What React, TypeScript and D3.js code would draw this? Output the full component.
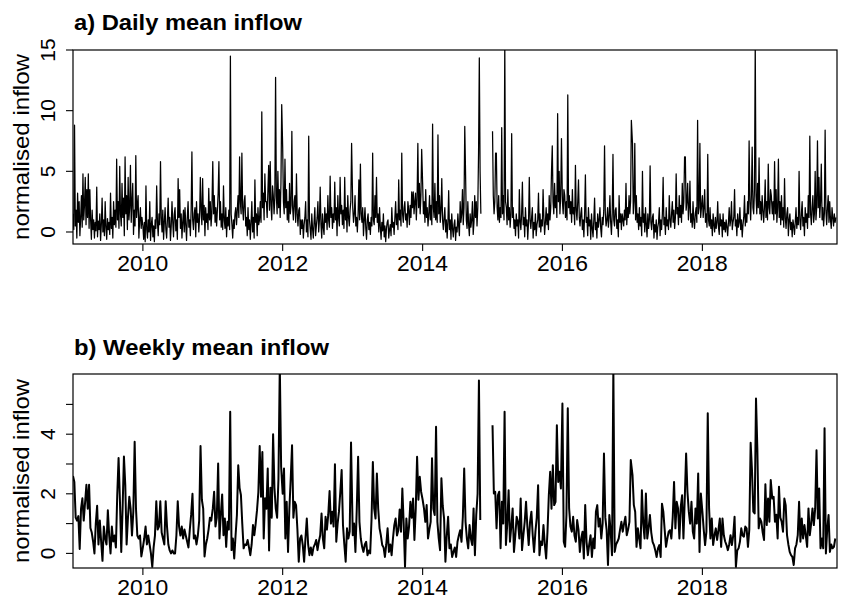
import React from 'react';
import * as d3 from 'd3';

const years = [2009, 2010, 2011, 2012, 2013, 2014, 2015, 2016, 2017, 2018, 2019];

// Daily mean inflow, sampled every 4th day from 1 Jan of each year (null = missing)
const dailyByYear: (number | null)[][] = [
  [1.5, 0.2, 8.8, 0.5, 1.8, -0.5, 3.2, 0.8, 2.5, -0.3,
   1.2, 3.0, 0.4, 4.8, 1.0, 2.2, 4.5, 0.6, 3.5, 1.2,
   4.8, 0.3, 3.5, 1.0, -0.6, 1.8, 0.2, 1.0, -0.5, 0.8,
   0.1, 3.7, -0.4, 0.9, 0.2, 1.5, -0.7, 0.6, 2.8, 0.0,
   1.0, -0.3, 2.5, 0.4, -0.6, 1.1, 0.2, 0.8, -0.2, 3.2,
   0.3, 1.2, -0.5, 2.5, 0.6, 1.8, 0.4, 6.0, 1.0, 2.5,
   0.3, 5.4, 1.5, 0.5, 4.0, 1.2, 2.8, -0.3, 6.2, 1.5,
   3.0, 0.2, 4.5, 1.0, 2.0, 5.5, 0.8, 2.5, 4.0, -0.2,
   1.8, 0.5, 6.3, 1.2, 2.2, 3.0, -0.5, 1.0, 2.0, 0.3,
   1.2],
  [0.5, -0.6, 0.8, -0.8, 3.8, 0.2, -0.5, 1.0, 0.0, 2.5,
   -0.7, 0.6, 1.2, -0.4, 0.5, -0.8, 1.0, 0.3, 3.8, 0.8,
   -0.3, 1.5, 0.6, 5.8, 1.2, 0.0, 1.8, -0.6, 0.8, 2.0,
   0.2, -0.5, 1.0, 2.8, 0.4, 1.2, -0.7, 0.5, 2.5, 0.8,
   -0.4, 1.5, 2.0, 0.1, 1.0, -0.6, 4.4, 1.2, 3.5, 0.3,
   1.5, -0.5, 0.8, 1.8, 0.0, 2.0, 0.6, -0.7, 1.2, 2.5,
   0.4, 1.0, -0.3, 1.8, 6.6, 1.0, 0.2, 1.5, 2.0, -0.4,
   2.5, 0.8, 1.5, 0.0, 1.2, 4.5, 1.8, 0.6, 4.4, 1.0,
   2.2, -0.3, 2.0, 0.8, 1.5, 0.2, 3.6, 1.0, 2.5, 0.5,
   1.5],
  [5.8, 1.5, 3.0, 0.8, 2.0, 0.5, 1.8, 3.2, 5.8, 1.0,
   2.5, 0.4, 1.5, 0.2, 3.8, 1.0, 0.3, 2.0, -0.4, 1.2,
   0.5, 1.8, 0.2, 14.5, 1.5, 0.6, -0.5, 1.0, 0.3, 1.5,
   2.0, 0.6, 1.8, 3.0, 1.2, 6.2, 2.5, 1.5, 6.5, 2.0,
   1.0, 2.5, 3.0, 0.5, 1.2, -0.3, 2.0, 0.2, 1.0, -0.6,
   0.8, 2.5, 0.0, 1.2, -0.5, 4.3, 0.8, 1.5, -0.3, 2.0,
   0.6, 1.0, 2.5, 0.8, 9.9, 2.0, 3.2, 1.0, 4.8, 2.5,
   2.5, 1.2, 3.5, 5.5, 1.8, 5.8, 2.2, 1.0, 3.8, 3.0,
   1.5, 2.8, 12.75, 3.0, 1.5, 5.0, 2.0, 3.5, 1.2, 4.0,
   10.5],
  [7.0, 2.5, 1.5, 6.0, 2.0, 3.5, 1.0, 2.5, 0.8, 4.0,
   1.5, 2.2, 8.3, 2.0, 1.0, 2.5, 3.0, 0.8, 4.8, 1.5,
   0.5, 1.8, 2.0, -0.2, 1.0, 0.3, 1.0, -0.5, 0.6, 1.2,
   2.5, 0.0, 1.0, -0.4, 7.9, 1.0, 0.2, -0.6, 1.5, 0.3,
   -0.5, 0.8, 2.0, -0.3, 0.5, 1.2, 2.5, 0.0, 1.0, 3.7,
   0.6, -0.5, 1.5, 0.4, -0.2, 2.0, 0.8, 1.5, 0.2, 3.0,
   1.0, 0.4, 4.6, 1.2, 2.0, 0.3, 1.5, 0.8, 4.1, 1.0,
   2.0, -0.3, 3.0, 1.2, 0.5, 4.5, 1.5, 2.2, 0.6, 1.8,
   0.3, 4.5, 1.0, 2.0, 0.0, 3.0, 1.2, 0.5, 1.8, 2.5,
   7.3],
  [2.0, 0.8, 1.5, 3.0, 0.5, 1.2, 0.0, 1.5, 4.3, 1.0,
   5.6, 1.5, 0.8, 2.0, -0.3, 1.0, 2.0, 0.3, -0.6, 1.0,
   1.5, 0.2, 0.8, -0.2, 1.2, 0.5, 6.5, 1.0, 0.6, 3.0,
   1.2, 4.5, 0.8, 1.5, 0.0, 2.0, 0.4, -0.6, 0.8, 0.1,
   1.5, -0.4, 0.5, -0.8, 0.3, 0.8, 1.0, -0.5, 0.2, 0.6,
   -0.3, 2.0, 0.4, 0.8, -0.2, 1.2, 2.5, 0.6, 1.5, 0.2,
   4.3, 1.0, 1.8, 0.5, 6.5, 1.5, 0.8, 2.0, 2.5, 1.0,
   1.5, 0.4, 2.5, 1.8, 0.6, 2.2, 1.2, 3.3, 2.0, 3.3,
   1.5, 2.5, 3.2, 1.0, 2.8, 7.3, 2.0, 4.0, 1.5, 3.0,
   6.8],
  [4.0, 1.5, 2.5, 0.8, 3.5, 1.2, 2.0, 0.5, 1.5, 3.0,
   1.0, 2.2, 0.6, 8.9, 2.0, 1.2, 4.0, 1.0, 2.5, 0.8,
   8.0, 1.5, 3.0, 0.8, 1.8, 4.4, 1.0, 0.2, 1.2, 2.0,
   0.0, 1.0, -0.5, 0.8, 3.4, 0.2, 1.0, -0.6, 1.5, 0.3,
   -0.4, 0.6, 1.0, -0.7, 0.4, 0.0, 1.5, 0.5, -0.3, 2.5,
   0.8, 1.5, 3.5, 0.6, 2.0, 8.7, 5.0, 1.0, 0.3, 2.5,
   0.6, -0.3, 1.5, 0.4, 1.0, 2.5, -0.2, 0.8, 3.0, 1.2,
   2.5, 0.5, 2.0, 6.5, 14.35, 5.0, 1.5,
   null, null, null, null, null, null, null, null, null, null, null, null, null, null],
  [8.3, 3.0, 1.5, 2.5, 6.5, 6.5, 2.0, 1.0, 3.0, 0.8,
   2.0, 1.2, 8.6, 1.5, 3.0, 1.0, 15.5, 2.5, 2.0, 0.6,
   3.5, 1.0, 2.0, 0.4, 1.5, 8.1, 1.2, 2.0, 0.3, 1.0,
   -0.3, 1.5, 0.5, 1.0, -0.5, 3.5, 0.8, 0.2, 1.5, 4.1,
   0.6, 1.2, -0.4, 2.0, 0.5, 1.0, -0.6, 0.8, 4.5, 1.0,
   0.3, 1.2, 2.0, -0.5, 0.8, 0.2, 1.5, -0.3, 0.6, 1.0,
   3.2, 0.4, 1.5, 0.0, 1.0, 0.5, 3.5, 1.2, -0.2, 0.8,
   2.0, 0.6, 1.5, 0.2, 3.0, 1.0, 2.0, 5.0, 7.1, 2.5,
   1.5, 4.0, 2.0, 3.0, 1.2, 9.75, 2.5, 5.0, 1.5, 3.0,
   7.7],
  [2.5, 1.5, 3.5, 3.0, 1.2, 2.5, 1.0, 11.3, 2.0, 3.0,
   1.5, 2.5, 0.8, 3.5, 1.5, 2.0, 0.6, 5.5, 1.8, 1.0,
   2.5, 4.3, 1.2, 0.5, 1.5, 2.0, 0.2, 1.0, -0.4, 1.5,
   4.7, 0.8, 1.2, -0.3, 2.0, 0.5, 1.0, -0.6, 1.5, 0.3,
   -0.4, 1.0, 2.8, 0.2, 0.8, -0.5, 1.5, 0.4, 1.0, 2.0,
   0.3, -0.4, 1.2, 0.6, 1.8, 7.1, 1.5, 0.5, 1.0, 2.0,
   0.4, 1.2, 3.0, 0.8, -0.2, 1.5, 6.4, 1.0, 0.5, 1.8,
   2.0, 0.3, 1.0, -0.4, 3.0, 0.8, 1.5, 0.2, 1.5, 1.0,
   0.5, 1.8, 1.0, 4.0, 0.6, 2.0, 1.2, 3.0, 1.5, 2.5,
   9.2],
  [7.3, 1.5, 2.5, 7.3, 1.0, 3.0, 0.8, 1.5, 0.2, 2.0,
   0.5, 1.2, -0.3, 5.0, 0.8, 1.5, 0.0, 2.0, 0.6, -0.4,
   1.5, 0.3, 1.0, 5.45, 0.8, 0.2, 1.2, 1.5, -0.5, 0.6,
   0.0, 1.0, -0.6, 0.4, 0.8, 2.0, -0.3, 1.0, 0.2, 1.5,
   4.5, 0.6, 1.2, -0.2, 2.0, 0.5, 1.0, 0.2, 3.0, 1.0,
   0.4, 1.5, 2.5, 0.8, 1.8, 0.3, 1.2, 4.8, 1.5, 2.0,
   0.6, 3.0, 1.2, 2.2, 0.8, 4.0, 1.5, 2.5, 6.2, 6.2,
   1.8, 2.5, 4.0, 1.0, 2.0, 4.2, 0.8, 1.5, 0.4, 2.5,
   1.0, 0.3, 1.5, 2.0, 0.8, 9.2, 1.5, 2.0, 7.3, 1.2,
   2.0],
  [3.0, 1.2, 2.0, 3.5, 0.8, 1.5, 0.4, 6.4, 1.0, 0.5,
   2.0, 0.3, 1.0, -0.3, 1.5, 0.6, 0.0, 1.2, 0.3, 0.8,
   2.5, 0.4, -0.2, 1.5, 0.5, 1.0, -0.4, 1.5, 0.2, 0.8,
   0.0, 1.0, 0.4, -0.3, 0.8, 2.0, 0.5, 1.0, 2.5, 0.2,
   0.8, 1.2, 3.5, 0.5, 1.0, -0.3, 1.5, 0.4, 0.8, 2.0,
   0.2, 1.0, -0.4, 0.6, 1.2, 3.0, 0.5, 1.5, 0.8, 2.5,
   1.5, 7.5, 2.5, 1.0, 3.0, 7.0, 2.0, 1.5, 3.5, 15.5,
   3.0, 1.5, 4.0, 2.0, 6.1, 1.5, 2.5, 1.0, 3.0, 1.8,
   0.8, 2.0, 4.3, 1.2, 2.5, 1.0, 5.6, 2.0, 1.5, 3.5,
   3.0],
  [1.5, 2.5, 1.0, 5.8, 1.5, 3.5, 0.8, 2.0, 6.0, 1.2,
   2.5, 0.6, 3.0, 1.0, 2.0, 0.4, 4.4, 1.2, 0.3, 1.5,
   2.0, -0.3, 1.0, 1.5, 0.2, 0.8, -0.4, 1.0, 0.5, -0.2,
   0.8, 2.0, 0.3, 1.2, 0.6, 5.0, 1.0, 0.2, 1.5, 2.5,
   0.5, 1.2, -0.3, 2.0, 0.8, 1.5, 0.3, 3.0, 1.2, 7.9,
   1.5, 0.6, 2.0, 3.0, 0.8, 1.5, 5.0, 1.0, 2.0, 7.5,
   2.0, 4.5, 1.2, 2.5, 5.6, 1.0, 2.0, 0.5, 1.5, 8.4,
   1.8, 0.6, 2.0, 3.0, 0.8, 2.5, 1.0, 0.3, 2.0, 1.2,
   0.5, 1.5, 0.8, 1.2],
];

// Weekly mean inflow, one value per week from 1 Jan of each year (null = missing)
const weeklyByYear: (number | null)[][] = [
  [2.6, 2.4, 1.2, 1.1, 1.25, 0.15, 1.5, 1.85, 1.1, 1.7, 2.3, 1.5, 2.3, 0.85, 0.7, 0.4, 0.0, 1.0, 1.6, 0.3,
   1.1, 0.4, -0.25, 0.9, 0.5, 0.3, 1.45, 0.6, 0.0, 0.9, 0.4, 0.6, 0.2, 1.95, 3.2, 1.8, 0.05, 1.5, 3.25, 2.3,
   0.3, 1.2, 1.9, 1.5, 0.6, 1.4, 3.75, 1.5, 0.6, 0.5, 0.6, -0.1],
  [0.2, 0.5, 0.9, 0.3, 0.6, 0.3, 0.0, -0.45, 0.2, 0.6, 1.75, 0.8, 0.9, 1.75, 0.7, 0.5, 0.3, 1.75, 0.9, 0.3,
   0.1, 0.0, 0.1, 0.0, 0.0, 0.6, 1.75, 0.9, 0.6, 0.9, 0.5, 0.8, 0.6, 0.4, 0.2, 0.8, 1.3, 2.0, 0.5, 0.6,
   0.3, 0.6, 1.1, 3.6, 1.8, 1.5, -0.1, 0.3, 0.5, 0.8, 1.2, 1.1],
  [1.5, 2.07, 0.9, 1.2, 3.02, 0.5, 1.3, 1.98, 0.61, 1.17, 0.22, 1.06, 0.8, 4.75, 0.11, 0.5, -0.17, 0.6, 1.29, 2.96,
   2.2, 1.96, 1.0, 0.17, 0.3, 0.28, 0.45, 0.2, -0.06, 0.3, 0.95, 0.61, 1.0, 1.45, 2.05, 3.6, 1.9, 3.4, 0.5, 1.85,
   1.5, 2.85, 0.1, 2.2, 1.2, 4.0, 2.2, 1.5, 1.2, 2.5, 6.3, 2.9],
  [2.0, 2.85, 0.5, 1.73, 0.05, 1.5, 2.5, 3.63, 1.2, 1.73, 1.62, 0.8, -0.28, 0.5, 0.6, 0.28, -0.28, 0.5, 1.17, 0.3,
   -0.06, 0.2, -0.06, 0.2, 0.3, 0.45, 0.11, 0.4, 0.61, 1.34, 0.5, 0.17, 1.23, 0.8, 1.29, 2.09, 1.0, 1.4, 0.9, 2.99,
   0.39, 1.0, 1.4, 2.07, 2.8, 0.95, 0.3, -0.28, 0.84, 0.5, 0.73, 3.72],
  [0.61, 1.0, 0.05, 1.5, 3.24, 1.06, 0.5, 0.22, 0.05, 0.3, 0.39, -0.06, 0.1, 0.0, 1.12, 3.07, 1.5, 1.17, 2.68, 1.5,
   0.84, 0.6, 0.28, 0.2, -0.12, 0.3, 0.84, 0.05, 0.3, -0.06, 0.5, 0.95, 1.17, 0.6, 0.78, 1.47, 0.73, 2.18, 1.0, -0.45,
   1.17, 0.5, 0.9, 1.73, 1.2, 1.84, 0.45, 1.5, 3.24, 1.8, 2.57, 2.07],
  [1.8, 1.51, 1.06, 1.62, 0.5, 0.8, 1.06, 3.19, 1.5, 1.29, 4.25, 1.06, 0.5, 0.11, 2.52, 1.6, 1.17, -0.28, 0.6, 1.23,
   0.17, 0.3, -0.12, 0.05, 0.2, -0.12, 0.39, 0.6, 0.78, 0.39, 1.23, 2.85, 1.06, 0.5, 0.17, 0.95, 0.5, 0.28, 1.51, -0.06,
   1.29, 2.0, 5.8, 1.12, null, null, null, null, null, null, null, null],
  [4.3, 2.01, 2.07, 0.84, 1.95, 2.07, 0.17, 1.73, 1.0, 4.75, 0.28, 1.0, 2.12, 0.39, 0.9, 1.51, 0.05, 0.6, 1.23, 1.06,
   0.5, 1.84, 0.11, 0.6, 1.06, 1.73, 0.9, 0.28, 1.06, 1.4, 0.6, 0.05, 0.73, 1.2, 2.29, -0.06, 0.4, 0.28, 0.95, 0.3,
   -0.17, 0.73, 1.95, 2.74, 1.5, 2.96, 1.62, 1.73, 4.3, 2.4, 2.74, 2.18],
  [5.03, 0.39, 0.22, 1.29, 4.87, 1.51, 0.9, 0.73, 1.23, 0.6, 0.39, 1.12, 0.8, 0.05, 0.5, 0.73, -0.17, 1.62, 0.39, -0.06,
   0.3, 0.61, -0.12, 0.5, 0.17, 1.4, 1.62, 0.9, 1.17, 0.5, 1.0, 3.35, 1.2, 0.78, -0.39, 1.29, 0.73, -0.06, 6.2, 0.05,
   0.3, 0.39, 0.5, 0.8, 1.06, 0.73, 1.0, 1.23, 0.61, 0.8, 1.06, 3.13],
  [2.63, 1.62, 1.4, 0.22, 0.84, 0.5, 0.17, 2.12, 1.0, 0.5, 2.01, 0.5, 0.84, 1.29, 0.7, 0.39, 0.28, 0.1, -0.12, 0.17,
   0.28, -0.12, 1.67, 1.4, 0.8, 0.22, 0.5, 0.73, 0.78, 0.5, 1.2, 2.4, 0.84, 1.73, 1.51, 0.5, 1.56, 1.95, 0.5, 1.84,
   3.35, 2.07, 1.4, 1.0, 1.73, 0.73, 0.5, 1.51, 1.0, 2.68, 0.05, 2.01],
  [1.4, 0.8, 0.28, 0.73, 4.7, 1.51, 0.5, 1.17, 0.28, 0.6, 0.84, 0.45, 0.8, 1.17, 0.22, 1.17, 0.61, 0.4, 0.28, 0.11,
   0.3, 0.61, 0.28, 0.6, 1.23, -0.45, 0.1, 0.17, 0.39, 0.84, 0.6, 0.56, 0.9, 0.84, 0.22, 0.8, 3.71, 2.8, 1.4, 1.34,
   5.2, 3.52, 0.84, 1.17, 1.06, 0.7, 0.45, 2.32, 0.95, 1.84, 1.06, 2.46],
  [1.84, 1.9, 1.06, 1.3, 0.5, 2.24, 1.2, 1.06, 0.73, 1.84, 1.62, 0.61, 0.3, 0.05, -0.06, -0.12, -0.39, 0.17, 0.3, 0.61,
   1.73, 0.39, 1.17, 0.5, 0.95, 0.6, 0.22, 1.51, 0.61, 1.0, 1.51, 0.95, 1.5, 3.46, 1.17, 2.18, 0.17, 0.5, 0.17, 4.2,
   0.0, 0.8, 1.29, 0.05, 0.3, 0.17, 0.22, 0.5],
];

const xTickYears = [2010, 2012, 2014, 2016, 2018];
const dailyTicks = [0, 5, 10, 15];
const dailyTickLabels = ['0', '5', '10', '15'];
const weeklyTicks = [0, 1, 2, 3, 4, 5];
const weeklyTickLabels = ['0', '', '2', '', '4', ''];

const DAY = 86400000;
type Pt = { t: number; v: number | null };

function buildSeries(byYear: (number | null)[][], stepDays: number): Pt[] {
  const out: Pt[] = [];
  byYear.forEach((vals, k) => {
    const start = Date.UTC(years[k], 0, 1);
    vals.forEach((v, i) => out.push({ t: start + i * stepDays * DAY, v }));
  });
  return out;
}

const dailySeries = buildSeries(dailyByYear, 4);
const weeklySeries = buildSeries(weeklyByYear, 7);

const FONT = "'Liberation Sans', Arial, Helvetica, sans-serif";
const LEFT = 73;
const RIGHT = 837;

const x = d3
  .scaleUtc()
  .domain([new Date(Date.UTC(2009, 0, 1)), new Date(Date.UTC(2019, 11, 5))])
  .range([LEFT, RIGHT]);

type PanelProps = {
  id: string;
  title: string;
  titleY: number;
  titleLen: number;
  top: number;
  bottom: number;
  yDomain: [number, number];
  ticks: number[];
  tickLabels: string[];
  series: Pt[];
  strokeWidth: number;
  yLabelLen: number;
};

function Panel(p: PanelProps) {
  const y = d3.scaleLinear().domain(p.yDomain).range([p.bottom, p.top]);
  const line = d3
    .line<Pt>()
    .defined((d) => d.v !== null)
    .x((d) => x(new Date(d.t)))
    .y((d) => y(d.v as number));
  const midY = (p.top + p.bottom) / 2;
  return (
    <g>
      <defs>
        <clipPath id={p.id}>
          <rect x={LEFT} y={p.top} width={RIGHT - LEFT} height={p.bottom - p.top} />
        </clipPath>
      </defs>
      <text
        x={74}
        y={p.titleY}
        fontFamily={FONT}
        fontWeight="bold"
        fontSize={21.5}
        textLength={p.titleLen}
        lengthAdjust="spacingAndGlyphs"
        fill="#000"
      >
        {p.title}
      </text>
      <path
        d={line(p.series) || ''}
        fill="none"
        stroke="#000"
        strokeWidth={p.strokeWidth}
        strokeLinejoin="round"
        clipPath={`url(#${p.id})`}
      />
      <rect
        x={LEFT}
        y={p.top}
        width={RIGHT - LEFT}
        height={p.bottom - p.top}
        fill="none"
        stroke="#000"
        strokeWidth={1.2}
      />
      {p.ticks.map((t, i) => (
        <g key={'y' + t}>
          <line x1={LEFT - 7} x2={LEFT} y1={y(t)} y2={y(t)} stroke="#000" strokeWidth={1.1} />
          {p.tickLabels[i] !== '' && (
            <text
              transform={`translate(55,${y(t)}) rotate(-90)`}
              textAnchor="middle"
              fontFamily={FONT}
              fontSize={21}
              fill="#000"
            >
              {p.tickLabels[i]}
            </text>
          )}
        </g>
      ))}
      {xTickYears.map((yr) => {
        const xx = x(new Date(Date.UTC(yr, 0, 1)));
        return (
          <g key={'x' + yr}>
            <line x1={xx} x2={xx} y1={p.bottom} y2={p.bottom + 7} stroke="#000" strokeWidth={1.1} />
            <text
              x={xx}
              y={p.bottom + 27}
              textAnchor="middle"
              fontFamily={FONT}
              fontSize={21.5}
              textLength={51}
              lengthAdjust="spacingAndGlyphs"
              fill="#000"
            >
              {String(yr)}
            </text>
          </g>
        );
      })}
      <text
        transform={`translate(28.5,${midY}) rotate(-90)`}
        textAnchor="middle"
        fontFamily={FONT}
        fontSize={22}
        textLength={p.yLabelLen}
        lengthAdjust="spacingAndGlyphs"
        fill="#000"
      >
        normalised inflow
      </text>
    </g>
  );
}

export default function App() {
  return (
    <svg
      width={847}
      height={605}
      viewBox="0 0 847 605"
      style={{ position: 'absolute', left: 0, top: 0, background: '#fff' }}
    >
      <rect x={0} y={0} width={847} height={605} fill="#fff" />
      <Panel
        id="clipDaily"
        title="a) Daily mean inflow"
        titleY={30}
        titleLen={228}
        top={50}
        bottom={244}
        yDomain={[-0.99, 15.0]}
        ticks={dailyTicks}
        tickLabels={dailyTickLabels}
        series={dailySeries}
        strokeWidth={1.25}
        yLabelLen={186}
      />
      <Panel
        id="clipWeekly"
        title="b) Weekly mean inflow"
        titleY={355}
        titleLen={255}
        top={374}
        bottom={568}
        yDomain={[-0.49, 6.02]}
        ticks={weeklyTicks}
        tickLabels={weeklyTickLabels}
        series={weeklySeries}
        strokeWidth={2}
        yLabelLen={184}
      />
    </svg>
  );
}
